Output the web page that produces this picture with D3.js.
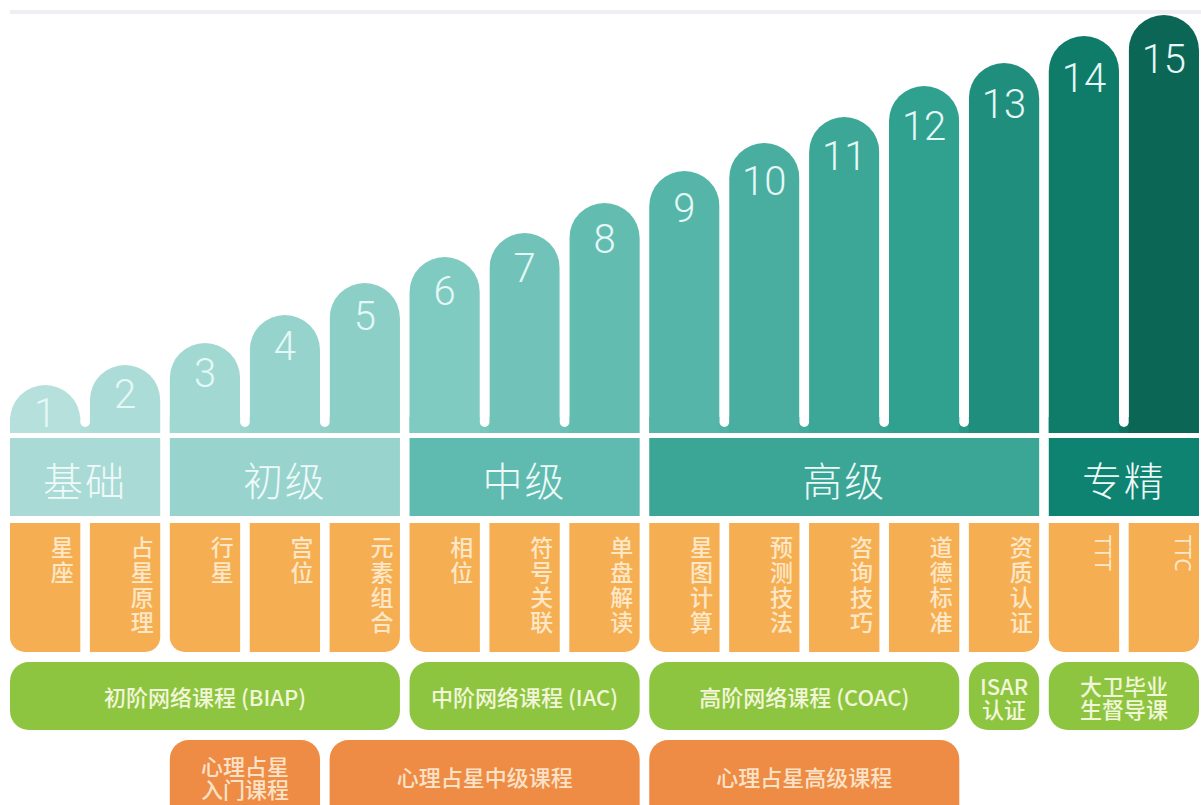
<!DOCTYPE html>
<html>
<head>
<meta charset="utf-8">
<script src="https://cdnjs.cloudflare.com/ajax/libs/d3/7.8.5/d3.min.js"></script>
<style>
body { margin: 0; background: #fff; }
svg { display: block; }
</style>
</head>
<body>
<script>
// levels 1..15 and the height of each rounded bar (px above the bar baseline)
var levels = [1, 2, 3, 4, 5, 6, 7, 8, 9, 10, 11, 12, 13, 14, 15];
var barHeights = [48, 68, 90, 118, 150, 176, 200, 230, 262, 290, 316, 347, 370, 397, 418];

// stage bands
var stageNames = ["基础", "初级", "中级", "高级", "专精"];
var stageSpans = [[1, 2], [3, 5], [6, 8], [9, 13], [14, 15]];

// topic of each level
var topics = ["星座", "占星原理", "行星", "宫位", "元素组合", "相位", "符号关联", "单盘解读",
  "星图计算", "预测技法", "咨询技巧", "道德标准", "资质认证", "TTT", "TTC"];

// online courses (green row)
var onlineNames = ["初阶网络课程 (BIAP)", "中阶网络课程 (IAC)", "高阶网络课程 (COAC)", "ISAR\n认证", "大卫毕业\n生督导课"];
var onlineSpans = [[1, 5], [6, 8], [9, 12], [13, 13], [14, 15]];

// psychological astrology courses (bottom row)
var psychNames = ["心理占星\n入门课程", "心理占星中级课程", "心理占星高级课程"];
var psychSpans = [[3, 4], [5, 8], [9, 12]];

var W = 1201, H = 805;
var svg = d3.select("body").append("svg").attr("width", W).attr("height", H);

var x = d3.scaleBand().domain(levels).range([10, 1199]).paddingInner(0.12);
var bw = x.bandwidth();
var gap = x.step() - bw;
var baseY = 433;
var y = d3.scaleLinear().domain([0, 420]).range([baseY, baseY - 420]);

var barColor = d3.scaleLinear()
  .domain([1, 3, 6, 9, 12, 14, 15])
  .range(["#b6e0dc", "#a2d8d2", "#7fcac1", "#55b5a8", "#30a08f", "#0f7c6a", "#0b6656"]);
var stageColor = d3.scaleOrdinal().domain(stageNames)
  .range(["#a9dad6", "#98d3ce", "#5fbab0", "#3ba596", "#0f8372"]);

function stageOf(lv) {
  for (var i = 0; i < stageSpans.length; i++) {
    if (lv >= stageSpans[i][0] && lv <= stageSpans[i][1]) return i;
  }
  return -1;
}
function spanX0(s) { return x(s[0]); }
function spanX1(s) { return x(s[1]) + bw; }

// path for a rect with individual corner radii [tl, tr, br, bl]
function roundRect(x0, y0, w, h, r) {
  var tl = r[0], tr = r[1], br = r[2], bl = r[3];
  return "M" + (x0 + tl) + "," + y0 +
    "H" + (x0 + w - tr) + (tr ? "A" + tr + "," + tr + " 0 0 1 " + (x0 + w) + "," + (y0 + tr) : "") +
    "V" + (y0 + h - br) + (br ? "A" + br + "," + br + " 0 0 1 " + (x0 + w - br) + "," + (y0 + h) : "") +
    "H" + (x0 + bl) + (bl ? "A" + bl + "," + bl + " 0 0 1 " + x0 + "," + (y0 + h - bl) : "") +
    "V" + (y0 + tl) + (tl ? "A" + tl + "," + tl + " 0 0 1 " + (x0 + tl) + "," + y0 : "") + "Z";
}

// ---- bars ----
var bars = levels.map(function(d, i) { return { lv: d, h: barHeights[i] }; });
var joined = bars.filter(function(d) { return d.lv < 15 && stageOf(d.lv) === stageOf(d.lv + 1); });

// bottom joins inside a stage
svg.selectAll("rect.join")
  .data(joined)
  .enter().append("rect")
  .attr("class", "join")
  .attr("x", function(d) { return x(d.lv); })
  .attr("y", baseY - 16)
  .attr("width", bw + gap + 1)
  .attr("height", 16)
  .attr("fill", function(d) { return barColor(d.lv + 0.5); });

svg.selectAll("path.bar")
  .data(bars)
  .enter().append("path")
  .attr("class", "bar")
  .attr("fill", function(d) { return barColor(d.lv); })
  .attr("d", function(d) {
    var r = bw / 2, x0 = x(d.lv), top = y(d.h);
    return "M" + x0 + "," + baseY + "V" + (top + r) +
      "A" + r + "," + r + " 0 0 1 " + (x0 + bw) + "," + (top + r) +
      "V" + baseY + "Z";
  });

// white gaps with rounded bottoms
svg.selectAll("rect.gap")
  .data(joined)
  .enter().append("rect")
  .attr("class", "gap")
  .attr("x", function(d) { return x(d.lv) + bw; })
  .attr("y", 20)
  .attr("width", gap)
  .attr("height", baseY - 6 - 20)
  .attr("rx", gap / 2)
  .attr("fill", "#ffffff");

// faint top rule
svg.append("rect").attr("x", 10).attr("y", 10).attr("width", W - 10).attr("height", 4).attr("fill", "#efeff3");

svg.selectAll("text.num")
  .data(bars)
  .enter().append("text")
  .attr("class", "num")
  .attr("x", function(d) { return x(d.lv) + bw / 2; })
  .attr("y", function(d) { return y(d.h) + 41 + d.lv * 1.1; })
  .attr("text-anchor", "middle")
  .attr("font-family", "Roboto, 'Liberation Sans', sans-serif")
  .attr("font-weight", 300)
  .attr("font-size", 40)
  .attr("fill", "#e4f8f6")
  .text(function(d) { return d.lv; });

// ---- stage band ----
var bandTop = 438, bandH = 78;
var stages = stageNames.map(function(n, i) { return { name: n, span: stageSpans[i] }; });
svg.selectAll("rect.stage")
  .data(stages)
  .enter().append("rect")
  .attr("class", "stage")
  .attr("x", function(d) { return spanX0(d.span); })
  .attr("y", bandTop)
  .attr("width", function(d) { return spanX1(d.span) - spanX0(d.span); })
  .attr("height", bandH)
  .attr("fill", function(d) { return stageColor(d.name); });

svg.selectAll("text.stage")
  .data(stages)
  .enter().append("text")
  .attr("class", "stage")
  .attr("x", function(d) { return (spanX0(d.span) + spanX1(d.span)) / 2; })
  .attr("y", bandTop + bandH / 2 + 2)
  .attr("text-anchor", "middle")
  .attr("dominant-baseline", "central")
  .attr("font-family", "'Noto Sans CJK SC', sans-serif")
  .attr("font-weight", 300)
  .attr("font-size", 40)
  .attr("letter-spacing", 2)
  .attr("fill", "#eefaf8")
  .text(function(d) { return d.name; });

// ---- topic row ----
var topTop = 523, topH = 129, cr = 15;
var topicData = levels.map(function(d, i) { return { lv: d, name: topics[i] }; });
svg.selectAll("path.topic")
  .data(topicData)
  .enter().append("path")
  .attr("class", "topic")
  .attr("fill", "#f6ae52")
  .attr("d", function(d) {
    var s = stageSpans[stageOf(d.lv)];
    var bl = d.lv === s[0] ? cr : 0, br = d.lv === s[1] ? cr : 0;
    return roundRect(x(d.lv), topTop, bw, topH, [0, 0, br, bl]);
  });

var topicG = svg.selectAll("g.topic")
  .data(topicData)
  .enter().append("g")
  .attr("class", "topic")
  .attr("transform", function(d) { return "translate(" + (x(d.lv) + bw - 18) + "," + 0 + ")"; });

// latin labels are turned sideways
topicG.filter(function(d) { return /^[A-Z]+$/.test(d.name); })
  .append("text")
  .attr("transform", "translate(-6," + (topTop + 12) + ") rotate(90)")
  .attr("font-family", "'Noto Sans', sans-serif")
  .attr("font-size", 21)
  .attr("fill", "#fde7c6")
  .text(function(d) { return d.name; });

// chinese labels stacked one character per line
topicG.filter(function(d) { return !/^[A-Z]+$/.test(d.name); })
  .selectAll("text")
  .data(function(d) { return d.name.split(""); })
  .enter().append("text")
  .attr("x", 0)
  .attr("y", function(c, i) { return topTop + 23 + i * 25; })
  .attr("text-anchor", "middle")
  .attr("dominant-baseline", "central")
  .attr("font-family", "'Noto Sans CJK SC', sans-serif")
  .attr("font-weight", 500)
  .attr("font-size", 23)
  .attr("fill", "#fde7c6")
  .text(function(c) { return c; });

// ---- pill rows ----
function pillRow(names, spans, top, h, fill, textFill, cls) {
  var data = names.map(function(n, i) { return { name: n, span: spans[i] }; });
  svg.selectAll("rect." + cls)
    .data(data)
    .enter().append("rect")
    .attr("class", cls)
    .attr("x", function(d) { return spanX0(d.span); })
    .attr("y", top)
    .attr("width", function(d) { return spanX1(d.span) - spanX0(d.span); })
    .attr("height", h)
    .attr("rx", 19)
    .attr("fill", fill);
  var t = svg.selectAll("text." + cls)
    .data(data)
    .enter().append("text")
    .attr("class", cls)
    .attr("text-anchor", "middle")
    .attr("font-family", "'Noto Sans CJK SC', sans-serif")
    .attr("font-weight", 500)
    .attr("font-size", 22)
    .attr("fill", textFill);
  t.each(function(d) {
    var lines = d.name.split("\n");
    var cx = (spanX0(d.span) + spanX1(d.span)) / 2;
    var cy = top + (cls === "psych" ? 36 : h / 2);
    d3.select(this).selectAll("tspan")
      .data(lines)
      .enter().append("tspan")
      .attr("x", cx)
      .attr("y", function(l, i) { return cy + (i - (lines.length - 1) / 2) * 23; })
      .attr("dominant-baseline", "central")
      .text(function(l) { return l; });
  });
}

pillRow(onlineNames, onlineSpans, 662, 68, "#8dc540", "#f2f6d9", "online");
pillRow(psychNames, psychSpans, 740, 90, "#ee8b44", "#fbe2c7", "psych");
</script>
</body>
</html>
